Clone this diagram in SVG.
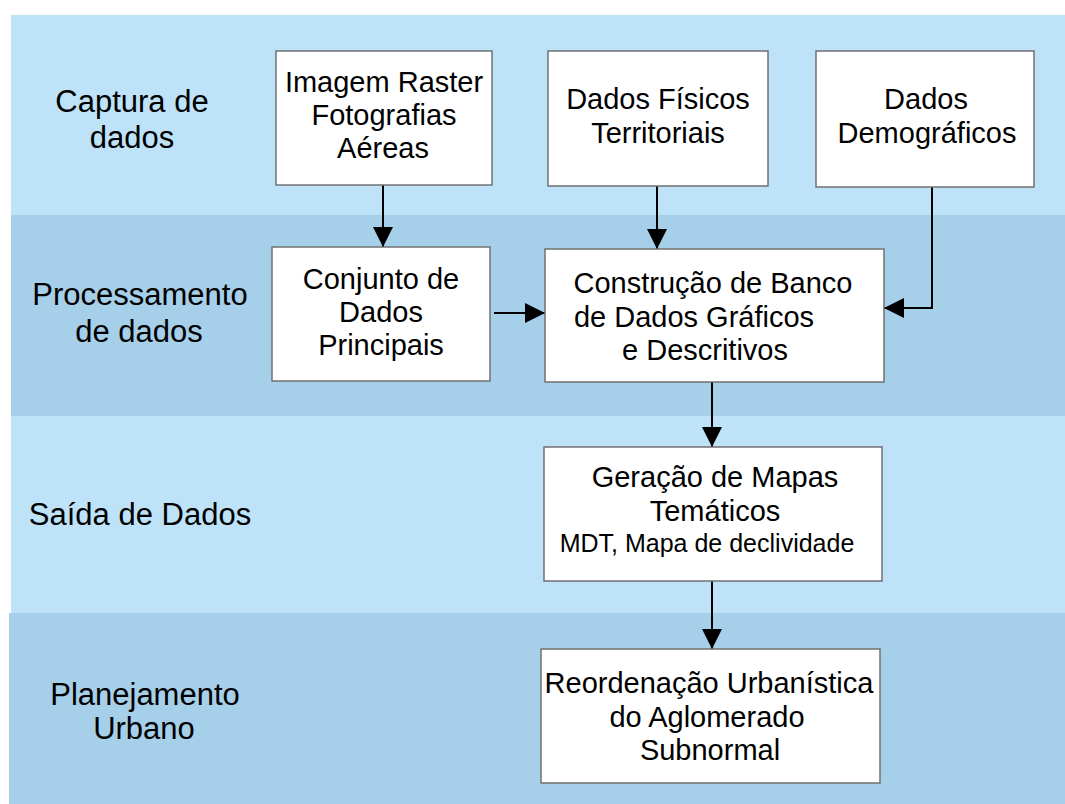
<svg xmlns="http://www.w3.org/2000/svg" width="1065" height="804" viewBox="0 0 1065 804">
<style>
.light{fill:#bee3f8}
.dark{fill:#a6cfe9}
.box{fill:#ffffff;stroke:#707070;stroke-width:1.5}
.lbl{font-family:"Liberation Sans",Arial,sans-serif;font-size:31px;fill:#000;text-anchor:middle}
.txt{font-family:"Liberation Sans",Arial,sans-serif;font-size:29px;fill:#000;text-anchor:middle}
.sm{font-size:25px}
.con{fill:none;stroke:#000;stroke-width:2}
</style>
<defs>
<marker id="ah" viewBox="0 0 20 20" refX="20" refY="10" markerWidth="20" markerHeight="20" markerUnits="userSpaceOnUse" orient="auto">
<path d="M0,0 L20,10 L0,20 Z" fill="#000"/>
</marker>
</defs>
<rect width="1065" height="804" fill="#ffffff"/>
<g id="bands">
<rect class="light" x="11" y="15" width="1054" height="200"/>
<rect class="dark" x="11" y="215" width="1054" height="201"/>
<rect class="light" x="11" y="416" width="1054" height="197"/>
<rect class="dark" x="9" y="613" width="1056" height="191"/>
</g>
<g id="labels">
<g id="lbl-captura"><text class="lbl" x="132" y="112">Captura de</text><text class="lbl" x="132" y="148">dados</text></g>
<g id="lbl-processamento"><text class="lbl" x="140" y="305">Processamento</text><text class="lbl" x="139" y="342">de dados</text></g>
<g id="lbl-saida"><text class="lbl" x="140" y="525">Saída de Dados</text></g>
<g id="lbl-planejamento"><text class="lbl" x="145" y="705">Planejamento</text><text class="lbl" x="144" y="739">Urbano</text></g>
</g>
<g id="connectors">
<line class="con" x1="383" y1="185" x2="383" y2="247" marker-end="url(#ah)"/>
<line class="con" x1="657" y1="186" x2="657" y2="249" marker-end="url(#ah)"/>
<polyline class="con" points="932,187 932,308 884,308" marker-end="url(#ah)"/>
<line class="con" x1="494" y1="313" x2="545" y2="313" marker-end="url(#ah)"/>
<line class="con" x1="712" y1="382" x2="712" y2="447" marker-end="url(#ah)"/>
<line class="con" x1="712" y1="581" x2="712" y2="649" marker-end="url(#ah)"/>
</g>
<g id="n-imagem">
<rect class="box" x="276" y="51" width="216" height="134"/>
<text class="txt" x="384" y="92">Imagem Raster</text>
<text class="txt" x="384" y="125">Fotografias</text>
<text class="txt" x="383" y="158">Aéreas</text>
</g>
<g id="n-fisicos">
<rect class="box" x="548" y="51" width="220" height="135"/>
<text class="txt" x="658" y="109">Dados Físicos</text>
<text class="txt" x="658" y="143">Territoriais</text>
</g>
<g id="n-demograficos">
<rect class="box" x="816" y="51" width="218" height="136"/>
<text class="txt" x="926" y="109">Dados</text>
<text class="txt" x="927" y="143">Demográficos</text>
</g>
<g id="n-conjunto">
<rect class="box" x="272" y="247" width="218" height="134"/>
<text class="txt" x="381" y="289">Conjunto de</text>
<text class="txt" x="381" y="322">Dados</text>
<text class="txt" x="381" y="355">Principais</text>
</g>
<g id="n-construcao">
<rect class="box" x="545" y="249" width="339" height="133"/>
<text class="txt" x="713" y="293">Construção de Banco</text>
<text class="txt" x="694" y="327">de Dados Gráficos</text>
<text class="txt" x="705" y="360">e Descritivos</text>
</g>
<g id="n-geracao">
<rect class="box" x="544" y="447" width="338" height="134"/>
<text class="txt" x="715" y="487">Geração de Mapas</text>
<text class="txt" x="715" y="521">Temáticos</text>
<text class="txt sm" x="707" y="552">MDT, Mapa de declividade</text>
</g>
<g id="n-reordenacao">
<rect class="box" x="541" y="649" width="339" height="134"/>
<text class="txt" x="709" y="693">Reordenação Urbanística</text>
<text class="txt" x="707" y="727">do Aglomerado</text>
<text class="txt" x="710" y="760">Subnormal</text>
</g>
</svg>
